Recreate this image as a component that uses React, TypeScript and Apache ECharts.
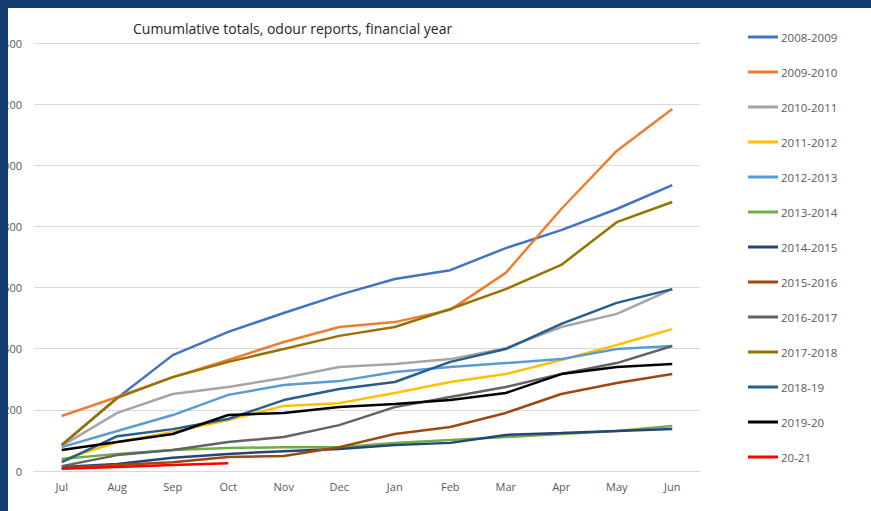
import React, { useEffect, useRef } from "react";
import * as echarts from "echarts";

const months = ["Jul", "Aug", "Sep", "Oct", "Nov", "Dec", "Jan", "Feb", "Mar", "Apr", "May", "Jun"];

const seriesNames = [
  "2008-2009", "2009-2010", "2010-2011", "2011-2012", "2012-2013", "2013-2014", "2014-2015",
  "2015-2016", "2016-2017", "2017-2018", "2018-19", "2019-20", "20-21",
];

const seriesColors = [
  "#4472C4", "#ED7D31", "#A5A5A5", "#FFC000", "#5B9BD5", "#70AD47", "#264478",
  "#9E480E", "#636363", "#997300", "#255E91", "#000000", "#FF0000",
];

const v2008 = [85, 239, 379, 455, 517, 576, 628, 657, 729, 788, 857, 935];
const v2009 = [180, 242, 307, 363, 422, 471, 487, 527, 648, 857, 1047, 1184];
const v2010 = [82, 190, 252, 275, 304, 340, 350, 366, 402, 471, 514, 595];
const v2011 = [36, 95, 128, 167, 213, 222, 255, 291, 317, 363, 412, 464];
const v2012 = [78, 131, 183, 249, 281, 294, 324, 340, 353, 366, 399, 409];
const v2013 = [39, 56, 69, 75, 78, 78, 92, 101, 111, 121, 131, 147];
const v2014 = [13, 23, 43, 56, 65, 72, 85, 92, 118, 124, 131, 137];
const v2015 = [10, 20, 29, 46, 49, 78, 121, 144, 190, 252, 288, 317];
const v2016 = [16, 52, 69, 95, 111, 150, 209, 242, 275, 317, 353, 409];
const v2017 = [85, 239, 307, 357, 399, 442, 471, 530, 595, 674, 814, 880];
const v2018 = [29, 114, 137, 170, 232, 268, 291, 357, 399, 481, 550, 595];
const v2019 = [69, 95, 121, 183, 190, 209, 219, 232, 255, 317, 340, 350];
const v2020 = [7, 13, 20, 25];

const allValues = [v2008, v2009, v2010, v2011, v2012, v2013, v2014, v2015, v2016, v2017, v2018, v2019, v2020];

const titleText = "Cumumlative totals, odour reports, financial year";

export default function App() {
  const ref = useRef<HTMLDivElement>(null);
  useEffect(() => {
    if (!ref.current) return;
    const chart = echarts.init(ref.current, null, { renderer: "svg" });
    chart.setOption({
      animation: false,
      backgroundColor: "#FFFFFF",
      title: {
        text: titleText,
        left: 133,
        top: 21,
        padding: 0,
        textStyle: { fontFamily: "Open Sans", fontSize: 14, fontWeight: "normal", color: "#262626" },
      },
      legend: {
        orient: "vertical",
        left: 748,
        top: 30,
        padding: 0,
        itemWidth: 30,
        itemHeight: 3,
        itemGap: 21,
        icon: "rect",
        data: seriesNames,
        textStyle: { fontFamily: "Open Sans", fontSize: 11.5, color: "#595959", lineHeight: 14, padding: [0, 0, 0, -2] },
      },
      grid: { left: 34, right: 171, top: 43, bottom: 40, containLabel: false, outerBoundsMode: "none" },
      xAxis: {
        type: "category",
        data: months,
        boundaryGap: true,
        axisLine: { lineStyle: { color: "#D9D9D9", width: 1 } },
        axisTick: { show: false },
        axisLabel: { color: "#595959", fontFamily: "Open Sans", fontSize: 11, margin: 10 },
      },
      yAxis: {
        type: "value",
        min: 0,
        max: 1400,
        interval: 200,
        axisLine: { show: false },
        axisTick: { show: false },
        splitLine: { lineStyle: { color: "#D9D9D9", width: 1 } },
        axisLabel: {
          color: "#595959",
          fontFamily: "Open Sans",
          fontSize: 11,
          margin: 12,
          formatter: (v: number) => String(v),
        },
      },
      series: seriesNames.map((name, i) => ({
        name,
        type: "line",
        data: allValues[i],
        symbol: "none",
        lineStyle: { width: 2.5, color: seriesColors[i] },
        itemStyle: { color: seriesColors[i] },
        z: 2 + i,
      })),
    });
    return () => chart.dispose();
  }, []);
  return (
    <div style={{ position: "fixed", left: 0, top: 0, width: 871, height: 511, background: "#FFFFFF", overflow: "hidden" }}>
      <div ref={ref} style={{ position: "absolute", left: 0, top: 0, width: 871, height: 511 }} />
      <div style={{ position: "absolute", left: 0, top: 0, width: 871, height: 8, background: "#113E6F" }} />
      <div style={{ position: "absolute", left: 0, top: 0, width: 8, height: 511, background: "#113E6F" }} />
    </div>
  );
}
